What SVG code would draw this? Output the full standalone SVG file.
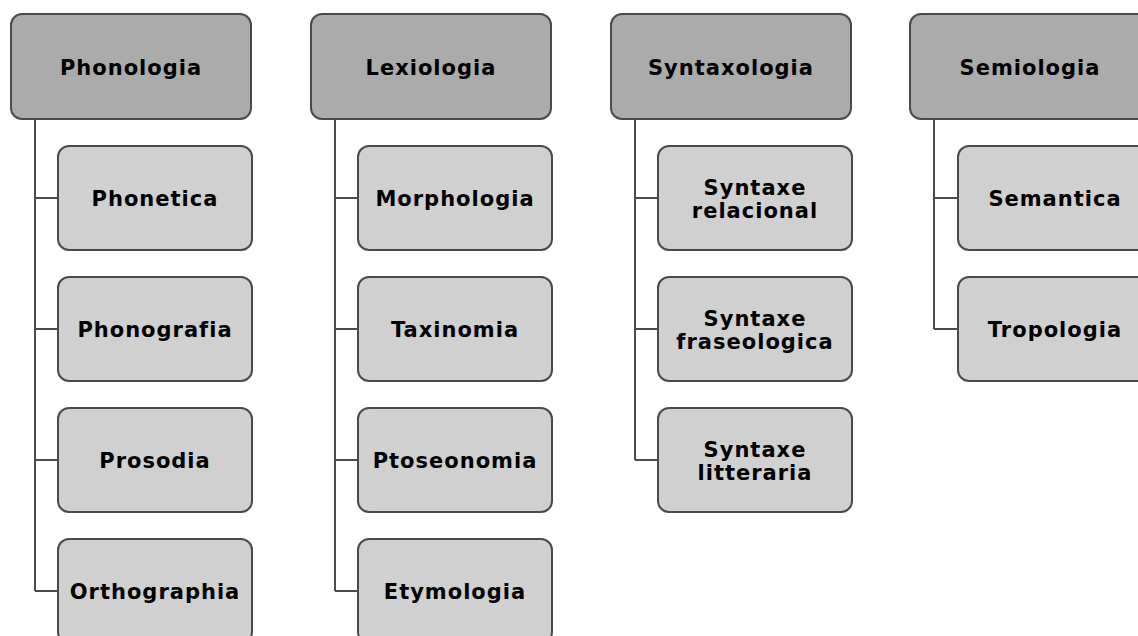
<svg xmlns="http://www.w3.org/2000/svg" width="1138" height="636" viewBox="0 0 1138 636">
<style>
.h{fill:#ababab;stroke:#4a4a4a;stroke-width:2}
.c{fill:#d0d0d0;stroke:#4a4a4a;stroke-width:2}
.t{font-family:"DejaVu Sans",sans-serif;font-weight:bold;font-size:21px;letter-spacing:1px;fill:#000;text-anchor:middle}
.ln{stroke:#4a4a4a;stroke-width:2;fill:none}
</style>
<rect width="1138" height="636" fill="#fff"/>
<g id="connectors">
<path class="ln" d="M35 119V591M35 198H58M35 329H58M35 460H58M35 591H58"/>
<path class="ln" d="M335 119V591M335 198H358M335 329H358M335 460H358M335 591H358"/>
<path class="ln" d="M635 119V460M635 198H658M635 329H658M635 460H658"/>
<path class="ln" d="M934 119V329M934 198H958M934 329H958"/>
</g>
<g id="phonologia"><rect class="h" x="11" y="14" width="240" height="105" rx="11"/><text class="t" x="131" y="75">Phonologia</text></g>
<g id="phonetica"><rect class="c" x="58" y="146" width="194" height="104" rx="11"/><text class="t" x="155" y="206">Phonetica</text></g>
<g id="phonografia"><rect class="c" x="58" y="277" width="194" height="104" rx="11"/><text class="t" x="155" y="337">Phonografia</text></g>
<g id="prosodia"><rect class="c" x="58" y="408" width="194" height="104" rx="11"/><text class="t" x="155" y="468">Prosodia</text></g>
<g id="orthographia"><rect class="c" x="58" y="539" width="194" height="104" rx="11"/><text class="t" x="155" y="599">Orthographia</text></g>

<g id="lexiologia"><rect class="h" x="311" y="14" width="240" height="105" rx="11"/><text class="t" x="431" y="75">Lexiologia</text></g>
<g id="morphologia"><rect class="c" x="358" y="146" width="194" height="104" rx="11"/><text class="t" x="455" y="206">Morphologia</text></g>
<g id="taxinomia"><rect class="c" x="358" y="277" width="194" height="104" rx="11"/><text class="t" x="455" y="337">Taxinomia</text></g>
<g id="ptoseonomia"><rect class="c" x="358" y="408" width="194" height="104" rx="11"/><text class="t" x="455" y="468">Ptoseonomia</text></g>
<g id="etymologia"><rect class="c" x="358" y="539" width="194" height="104" rx="11"/><text class="t" x="455" y="599">Etymologia</text></g>

<g id="syntaxologia"><rect class="h" x="611" y="14" width="240" height="105" rx="11"/><text class="t" x="731" y="75">Syntaxologia</text></g>
<g id="syntaxe-relacional"><rect class="c" x="658" y="146" width="194" height="104" rx="11"/><text class="t" x="755" y="195">Syntaxe</text><text class="t" x="755" y="218">relacional</text></g>
<g id="syntaxe-fraseologica"><rect class="c" x="658" y="277" width="194" height="104" rx="11"/><text class="t" x="755" y="326">Syntaxe</text><text class="t" x="755" y="349">fraseologica</text></g>
<g id="syntaxe-litteraria"><rect class="c" x="658" y="408" width="194" height="104" rx="11"/><text class="t" x="755" y="457">Syntaxe</text><text class="t" x="755" y="480">litteraria</text></g>

<g id="semiologia"><rect class="h" x="910" y="14" width="240" height="105" rx="11"/><text class="t" x="1030" y="75">Semiologia</text></g>
<g id="semantica"><rect class="c" x="958" y="146" width="194" height="104" rx="11"/><text class="t" x="1055" y="206">Semantica</text></g>
<g id="tropologia"><rect class="c" x="958" y="277" width="194" height="104" rx="11"/><text class="t" x="1055" y="337">Tropologia</text></g>
</svg>
